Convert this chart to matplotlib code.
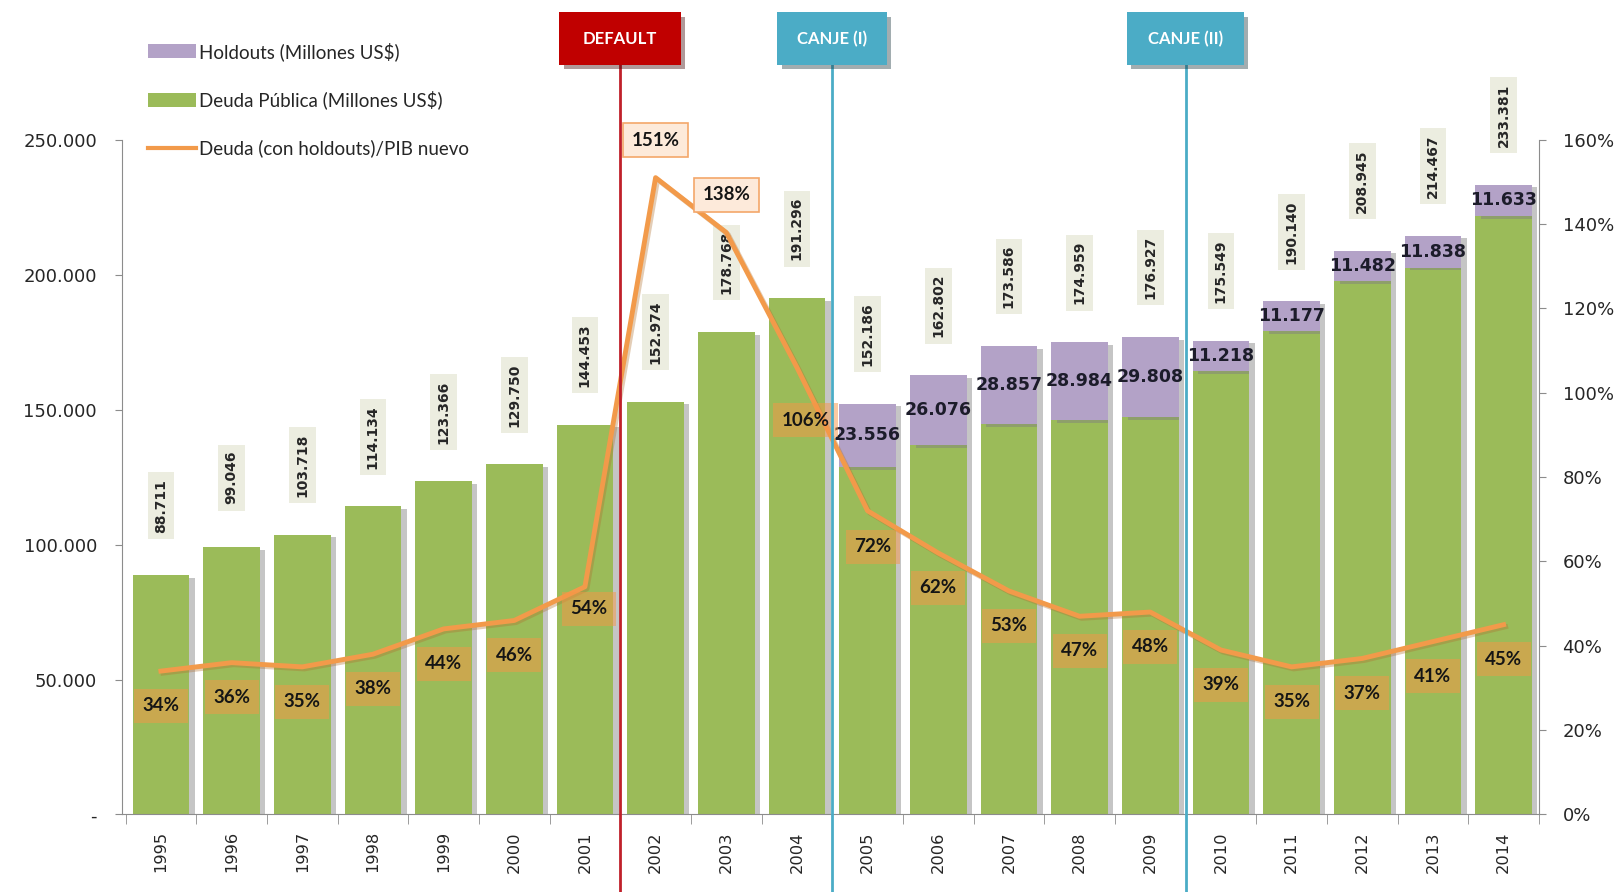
import matplotlib
matplotlib.use('Agg')
import matplotlib.pyplot as plt
import matplotlib.patheffects as pe
import matplotlib.transforms as mtrans
from matplotlib.patches import Rectangle, Patch
from matplotlib.lines import Line2D
from matplotlib.ticker import FuncFormatter, MultipleLocator, FixedLocator
import numpy as np

# ---------------- data ----------------
years = [str(y) for y in range(1995, 2015)]
total_debt = [88711, 99046, 103718, 114134, 123366, 129750, 144453, 152974,
              178768, 191296, 152186, 162802, 173586, 174959, 176927, 175549,
              190140, 208945, 214467, 233381]
holdouts = [0, 0, 0, 0, 0, 0, 0, 0, 0, 0,
            23556, 26076, 28857, 28984, 29808, 11218, 11177, 11482, 11838, 11633]
ratio_pct = [34, 36, 35, 38, 44, 46, 54, 151, 138, 106,
             72, 62, 53, 47, 48, 39, 35, 37, 41, 45]
event_labels = ['DEFAULT', 'CANJE (I)', 'CANJE (II)']
event_after_year = ['2001', '2004', '2009']
legend_labels = ['Holdouts (Millones US$)', 'Deuda Pública (Millones US$)',
                 'Deuda (con holdouts)/PIB nuevo']

# ---------------- style ----------------
GREEN = '#9BBB59'
PURPLE = '#B3A2C7'
ORANGE = '#F29A4A'
RED = '#C00000'
TEAL = '#4BACC6'
TXT = '#262626'

plt.rcParams['font.family'] = ['Lato', 'DejaVu Sans']


def fmt_num(v):
    return '{:,}'.format(int(v)).replace(',', '.')


x = np.arange(len(years))
total = np.array(total_debt, dtype=float)
hold = np.array(holdouts, dtype=float)
green = total - hold
ratio = np.array(ratio_pct, dtype=float) / 100.0

fig = plt.figure(figsize=(16.23, 8.92), dpi=100)
ax = fig.add_axes([0.0752, 0.0869, 0.873, 0.7565])

bar_shadow = [pe.SimplePatchShadow(offset=(4, -2), shadow_rgbFace='#7f7f7f', alpha=0.45), pe.Normal()]
ax.bar(x, green, width=0.8, color=GREEN, zorder=2, path_effects=bar_shadow)
ax.bar(x, hold, bottom=green, width=0.8, color=PURPLE, zorder=2, path_effects=bar_shadow)

ax.set_xlim(-0.55, len(years) - 0.5)
ax.set_ylim(0, 250000)
ax.yaxis.set_major_locator(MultipleLocator(50000))
ax.yaxis.set_major_formatter(FuncFormatter(lambda v, p: '-' if v == 0 else fmt_num(v)))
ax.set_xticks(x)
ax.set_xticklabels(years, rotation=90, family='DejaVu Sans')
ax.xaxis.set_minor_locator(FixedLocator(np.arange(len(years) + 1) - 0.5))
ax.tick_params(axis='x', which='major', length=0, pad=12, labelsize=11.7, labelcolor=TXT)
ax.tick_params(axis='x', which='minor', length=7, color='#8c8c8c', direction='out')
ax.tick_params(axis='y', length=5, color='#8c8c8c', pad=13, labelsize=13, labelcolor=TXT)
for lbl in ax.get_yticklabels():
    lbl.set_family('DejaVu Sans')
for s in ['top', 'right']:
    ax.spines[s].set_visible(False)
for s in ['left', 'bottom']:
    ax.spines[s].set_color('#8c8c8c')

# total labels (rotated)
for xi, t in zip(x, total):
    ax.annotate(fmt_num(t), (xi, t), xytext=(0, 50), textcoords='offset points',
                rotation=90, ha='center', va='center', fontsize=10, fontweight='bold',
                family='DejaVu Sans', color=TXT, zorder=5,
                bbox=dict(boxstyle='square,pad=0.45', fc='#ECEDE0', ec='none'))

# holdout labels
for xi, g, h in zip(x, green, hold):
    if h > 0:
        ax.text(xi, g + h / 2, fmt_num(h), ha='center', va='center', fontsize=12.5,
                fontweight='bold', family='DejaVu Sans', color='#1c1c2a', zorder=6)

# ratio line
ax2 = ax.twinx()
ax2.set_position(ax.get_position())
ax2.set_ylim(0, 1.6)
ax2.yaxis.set_major_locator(MultipleLocator(0.2))
ax2.yaxis.set_major_formatter(FuncFormatter(lambda v, p: '{:.0f}%'.format(v * 100)))
ax2.tick_params(axis='y', length=5, color='#8c8c8c', pad=12, labelsize=13, labelcolor=TXT)
for lbl in ax2.get_yticklabels():
    lbl.set_family('DejaVu Sans')
for s in ['top', 'left', 'bottom']:
    ax2.spines[s].set_visible(False)
ax2.spines['right'].set_color('#8c8c8c')
ax2.plot(x, ratio, color=ORANGE, lw=3.5, solid_joinstyle='round', zorder=4,
         path_effects=[pe.SimpleLineShadow(offset=(1.5, -1.5), shadow_color='#b07030', alpha=0.35),
                       pe.Normal()])

special_offsets = {'2001': (3, -16), '2002': (0, 27), '2003': (0, 27), '2004': (6, -38),
                   '2005': (4, -26)}
for xi, yr, r in zip(x, years, ratio):
    off = special_offsets.get(yr, (0, -25))
    if off[1] > 0:
        bb = dict(boxstyle='square,pad=0.45', fc='#FDEADA', ec='#F4A76A', lw=1.2)
    else:
        bb = dict(boxstyle='square,pad=0.45', fc='#F79646', ec='none', alpha=0.5)
    ax2.annotate('{:.0f}%'.format(r * 100), (xi, r), xytext=off, textcoords='offset points',
                 ha='center', va='center', fontsize=13.5, fontweight='bold', color='#151515',
                 bbox=bb, zorder=7)

# events
trans = mtrans.blended_transform_factory(ax.transData, fig.transFigure)
box_widths = [1.72, 1.55, 1.66]
box_colors = [RED, TEAL, TEAL]
line_colors = ['#C0202A', TEAL, TEAL]
box_bottom, box_h = 0.927, 0.059
for lab, yr, w, bc, lc in zip(event_labels, event_after_year, box_widths, box_colors, line_colors):
    xc = years.index(yr) + 0.5
    ln = Line2D([xc, xc], [0, box_bottom], transform=trans, color=lc, lw=2, zorder=8)
    fig.add_artist(ln)
    rect = Rectangle((xc - w / 2, box_bottom), w, box_h, transform=trans, fc=bc, ec='none',
                     zorder=9, path_effects=[pe.SimplePatchShadow(offset=(3, -3), alpha=0.4), pe.Normal()])
    fig.add_artist(rect)
    fig.text(xc, box_bottom + box_h / 2, lab, transform=trans, ha='center', va='center',
             color='white', fontsize=12, fontweight='bold', zorder=10)

# legend
handles = [Patch(fc=PURPLE, ec='none'), Patch(fc=GREEN, ec='none'),
           Line2D([0], [0], color=ORANGE, lw=3)]
fig.legend(handles, legend_labels, loc='upper left', bbox_to_anchor=(0.091, 0.953),
           frameon=False, prop={'family': 'Lato', 'size': 13.5},
           handlelength=2.6, handleheight=0.8, handletextpad=0.15,
           labelspacing=1.6, borderpad=0, borderaxespad=0, labelcolor=TXT)

fig.savefig('out.png', dpi=100)
